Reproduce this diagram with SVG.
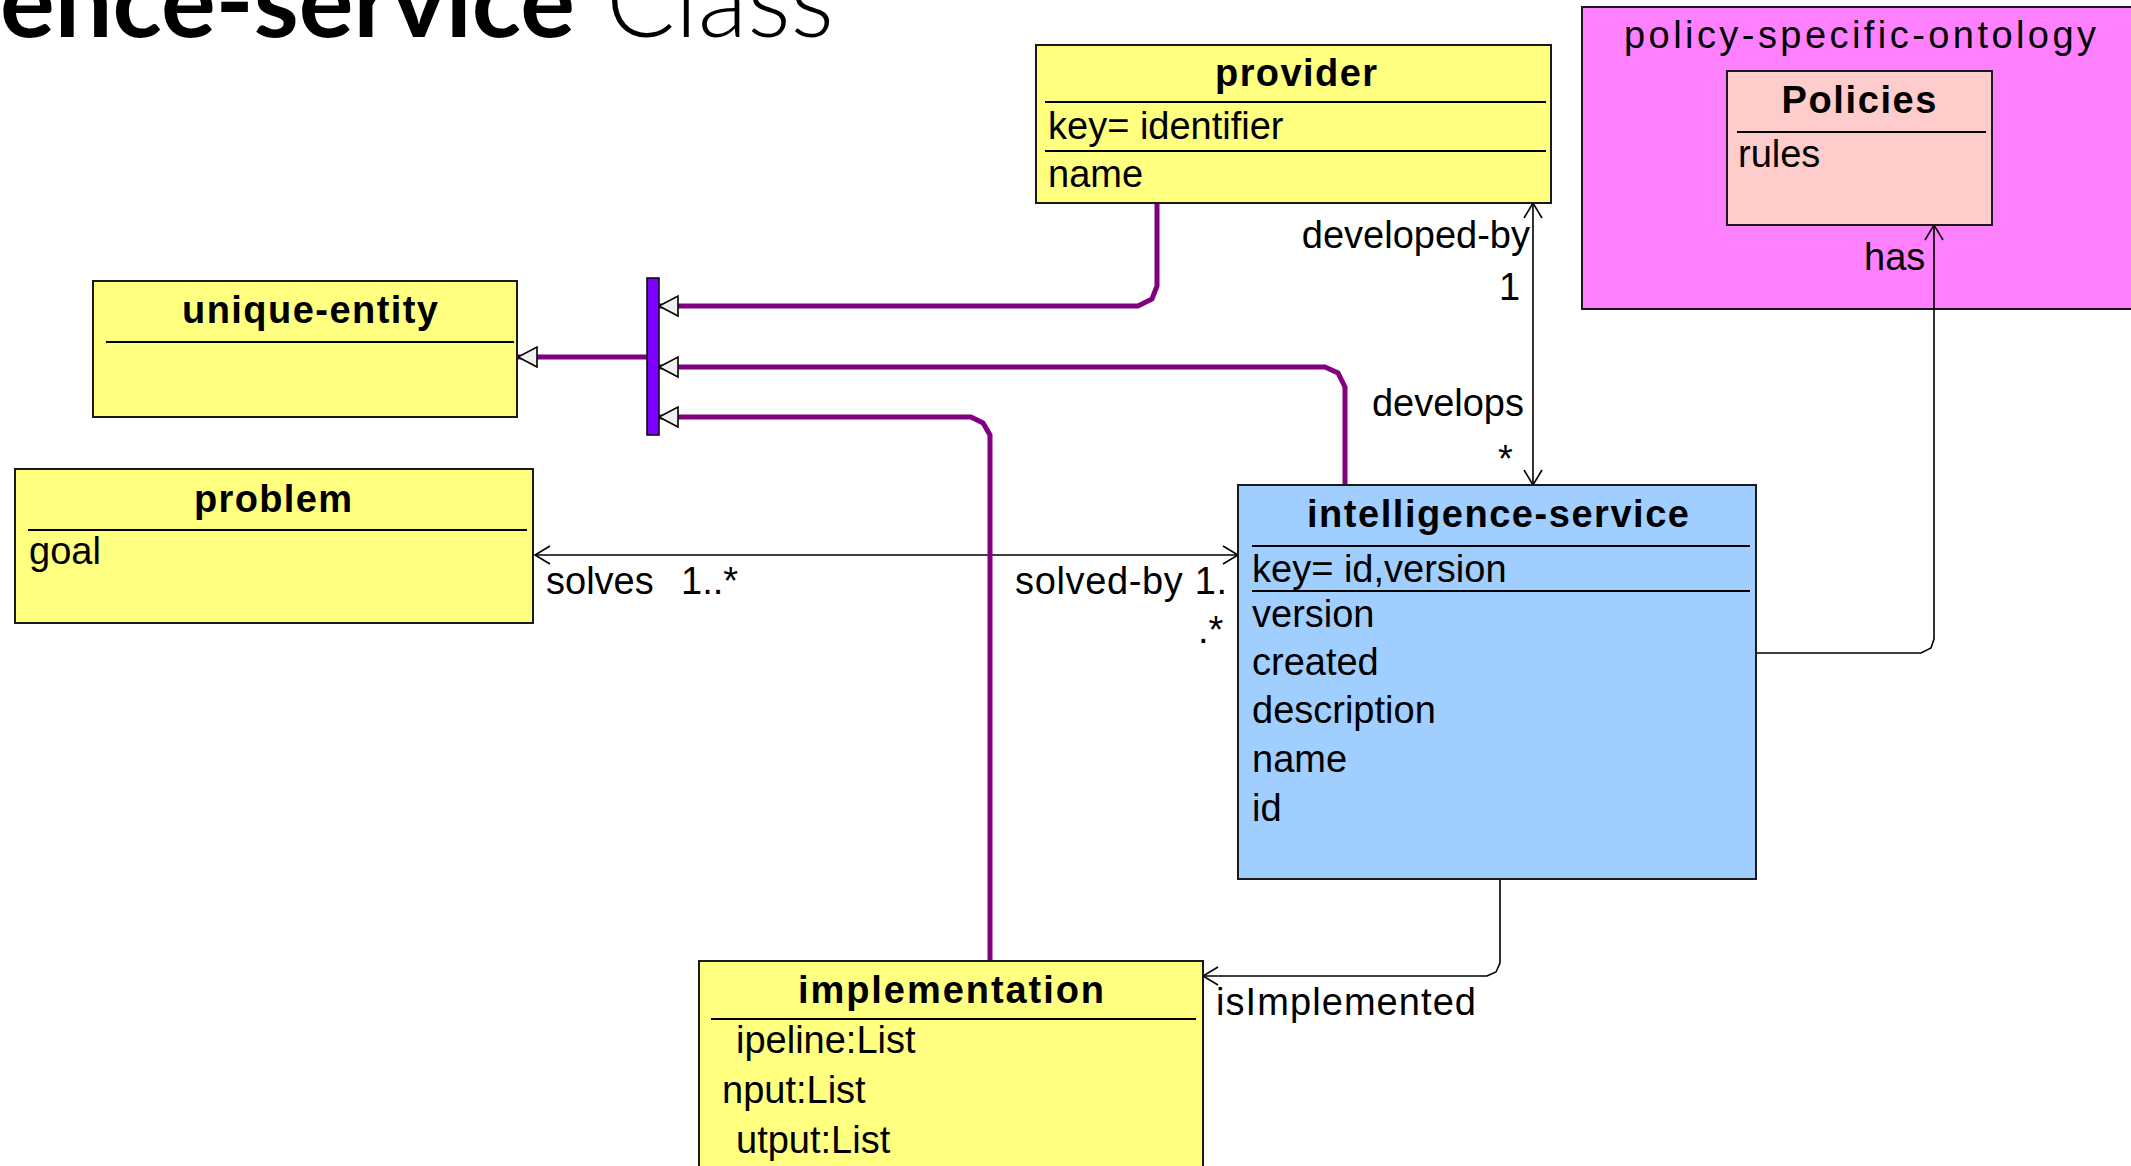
<svg xmlns="http://www.w3.org/2000/svg" width="2131" height="1166" viewBox="0 0 2131 1166">
<defs>
<style>
.box{stroke:#1a1a1a;stroke-width:2}
.yel{fill:#FFFF80}
.blue{fill:#A0CEFF}
.sep{stroke:#000;stroke-width:2}
.t{font-family:"Liberation Sans",Arial,sans-serif;font-size:38px;fill:#000}
.b{font-weight:bold;text-anchor:middle}
.gen{fill:none;stroke:#800080;stroke-width:5}
.assoc{fill:none;stroke:#000;stroke-width:1.6}
</style>
<marker id="open" markerUnits="userSpaceOnUse" viewBox="-17 -11 19 22" refX="0" refY="0" markerWidth="19" markerHeight="22" orient="auto-start-reverse">
<path d="M-15,-9 L0,0 L-15,9" fill="none" stroke="#000" stroke-width="1.6"/>
</marker>
<marker id="tri" markerUnits="userSpaceOnUse" viewBox="-21 -12 23 24" refX="0" refY="0" markerWidth="23" markerHeight="24" orient="auto">
<path d="M-19,-10 L0,0 L-19,10 Z" fill="#F0F0F0" stroke="#000" stroke-width="1.6"/>
</marker>
</defs>
<rect width="2131" height="1166" fill="#fff"/>
<g id="title">
<text x="0" y="37" font-family="Lato,'Open Sans',sans-serif" font-size="100" font-weight="bold" textLength="575" lengthAdjust="spacingAndGlyphs">ence-service</text>
<text x="606" y="37" font-family="Lato,'Open Sans',sans-serif" font-size="104" font-weight="300" textLength="228" lengthAdjust="spacingAndGlyphs">Class</text>
</g>
<g id="policy-specific-ontology">
<rect class="box" fill="#FF80FF" x="1582" y="7" width="560" height="302"/>
<text class="t" x="1860" y="48" text-anchor="middle" textLength="472">policy-specific-ontology</text>
</g>
<g id="connectors">
<path class="assoc" d="M1533,203 L1533,485" marker-start="url(#open)" marker-end="url(#open)"/>
<path class="assoc" d="M535,555 L1238,555" marker-start="url(#open)" marker-end="url(#open)"/>
<path class="assoc" d="M1756,653 L1921,653 L1931,648 L1934,639 L1934,225" marker-end="url(#open)"/>
<path class="assoc" d="M1500,879 L1500,963 L1496,972 L1487,976 L1203,976" marker-end="url(#open)"/>
<path class="gen" d="M1157,203 L1157,286 L1152,299 L1138,306 L659,306" marker-end="url(#tri)"/>
<path class="gen" d="M1345,485 L1345,387 L1338,373 L1325,367 L659,367" marker-end="url(#tri)"/>
<path class="gen" d="M990,961 L990,435 L983,423 L971,417 L659,417" marker-end="url(#tri)"/>
<path class="gen" d="M647,357 L518,357" marker-end="url(#tri)"/>
<text class="t" x="1530" y="248" text-anchor="end">developed-by</text>
<text class="t" x="1499" y="300">1</text>
<text class="t" x="1524" y="416" text-anchor="end">develops</text>
<text class="t" x="1498" y="472">*</text>
<text class="t" x="546" y="594">solves</text>
<text class="t" x="681" y="594">1..*</text>
<text class="t" x="1015" y="594" textLength="212">solved-by 1.</text>
<text class="t" x="1198" y="643">.*</text>
<text class="t" x="1216" y="1015" textLength="260">isImplemented</text>
<text class="t" x="1864" y="270">has</text>
</g>
<g id="generalization-bar">
<rect x="647" y="278" width="12" height="157" fill="#8000FF" stroke="#000" stroke-width="1.5"/>
</g>
<g id="provider">
<rect class="box yel" x="1036" y="45" width="515" height="158"/>
<line class="sep" x1="1045" y1="102" x2="1546" y2="102"/>
<line class="sep" x1="1045" y1="151" x2="1546" y2="151"/>
<text class="t b" x="1296" y="86" textLength="162">provider</text>
<text class="t" x="1048" y="139">key= identifier</text>
<text class="t" x="1048" y="187">name</text>
</g>
<g id="policies">
<rect class="box" fill="#FFCCCC" x="1727" y="71" width="265" height="154"/>
<line class="sep" x1="1737" y1="132" x2="1986" y2="132"/>
<text class="t b" x="1859" y="113" textLength="155">Policies</text>
<text class="t" x="1738" y="167">rules</text>
</g>
<g id="unique-entity">
<rect class="box yel" x="93" y="281" width="424" height="136"/>
<line class="sep" x1="106" y1="342" x2="514" y2="342"/>
<text class="t b" x="310" y="323" textLength="256">unique-entity</text>
</g>
<g id="problem">
<rect class="box yel" x="15" y="469" width="518" height="154"/>
<line class="sep" x1="28" y1="530" x2="527" y2="530"/>
<text class="t b" x="273" y="512" textLength="158">problem</text>
<text class="t" x="29" y="564">goal</text>
</g>
<g id="intelligence-service">
<rect class="box blue" x="1238" y="485" width="518" height="394"/>
<line class="sep" x1="1252" y1="546" x2="1750" y2="546"/>
<line class="sep" x1="1252" y1="591" x2="1750" y2="591"/>
<text class="t b" x="1498" y="527" textLength="382">intelligence-service</text>
<text class="t" x="1252" y="582">key= id,version</text>
<text class="t" x="1252" y="627">version</text>
<text class="t" x="1252" y="675">created</text>
<text class="t" x="1252" y="723">description</text>
<text class="t" x="1252" y="772">name</text>
<text class="t" x="1252" y="821">id</text>
</g>
<g id="implementation">
<rect class="box yel" x="699" y="961" width="504" height="220"/>
<line class="sep" x1="711" y1="1019" x2="1196" y2="1019"/>
<text class="t b" x="951" y="1003" textLength="306">implementation</text>
<text class="t" x="736" y="1053">ipeline:List</text>
<text class="t" x="722" y="1103">nput:List</text>
<text class="t" x="736" y="1153">utput:List</text>
</g>
</svg>
